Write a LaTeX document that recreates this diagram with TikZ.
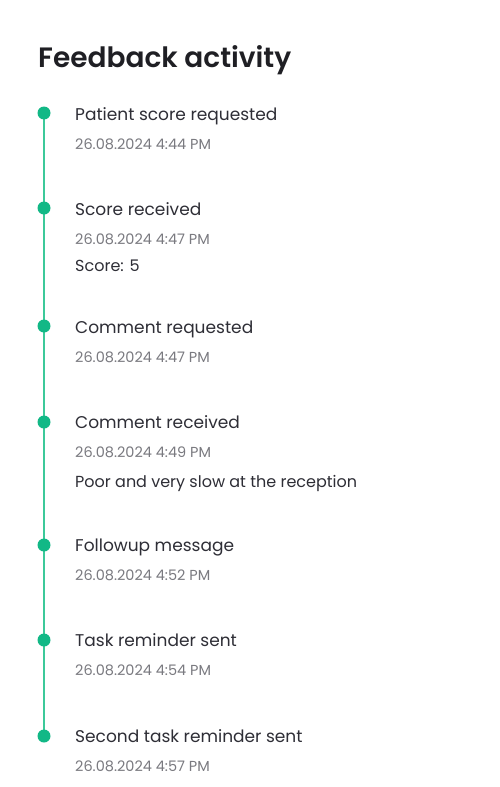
\documentclass[tikz,border=0pt]{standalone}
\usepackage{fontspec}
\setmainfont{Poppins}
\newfontfamily\headfont{Poppins}[UprightFont=* SemiBold]
\definecolor{headc}{HTML}{1F1F24}
\definecolor{itemc}{HTML}{2E2E36}
\definecolor{datec}{HTML}{7A7A80}
\definecolor{dotc}{HTML}{12B886}
\definecolor{linec}{HTML}{3CC99A}
\tikzset{
  dotmark/.style={circle,fill=dotc,inner sep=0pt,minimum size=13pt},
  itemtitle/.style={anchor=base west,inner sep=0pt,text=itemc,font=\fontsize{17}{20}\selectfont},
  itemdate/.style={anchor=base west,inner sep=0pt,text=datec,font=\fontsize{14.5}{17}\selectfont},
  itemextra/.style={anchor=base west,inner sep=0pt,text=itemc,font=\fontsize{16}{19}\selectfont},
}
\begin{document}
\begin{tikzpicture}[x=1pt,y=-1pt]
\useasboundingbox[fill=white] (0,0) rectangle (500,787);
\node[anchor=base west,inner sep=0pt,text=headc,font=\headfont\fontsize{28}{33}\selectfont] (head) at (38,67) {Feedback activity};
% line
\coordinate (ltop) at (44,113);
\coordinate (lbot) at (44,736);
\draw[linec,line width=1.6pt] (ltop) -- (lbot);
% items
\node[dotmark] (d1) at (44,113) {};
\node[itemtitle] (t1) at (75,120) {Patient score requested};
\node[itemdate] (s1) at (75,149) {26.08.2024 4:44 PM};
\node[dotmark] (d2) at (44,208) {};
\node[itemtitle] (t2) at (75,215) {Score received};
\node[itemdate] (s2) at (75,244) {26.08.2024 4:47 PM};
\node[itemextra] (e2) at (75,271) {Score: 5};
\node[dotmark] (d3) at (44,326) {};
\node[itemtitle] (t3) at (75,333) {Comment requested};
\node[itemdate] (s3) at (75,362) {26.08.2024 4:47 PM};
\node[dotmark] (d4) at (44,422) {};
\node[itemtitle] (t4) at (75,428) {Comment received};
\node[itemdate] (s4) at (75,457) {26.08.2024 4:49 PM};
\node[itemextra] (e4) at (75,487) {Poor and very slow at the reception};
\node[dotmark] (d5) at (44,545) {};
\node[itemtitle] (t5) at (75,551) {Followup message};
\node[itemdate] (s5) at (75,580) {26.08.2024 4:52 PM};
\node[dotmark] (d6) at (44,640) {};
\node[itemtitle] (t6) at (75,646) {Task reminder sent};
\node[itemdate] (s6) at (75,675) {26.08.2024 4:54 PM};
\node[dotmark] (d7) at (44,736) {};
\node[itemtitle] (t7) at (75,742) {Second task reminder sent};
\node[itemdate] (s7) at (75,771) {26.08.2024 4:57 PM};
\end{tikzpicture}
\end{document}
